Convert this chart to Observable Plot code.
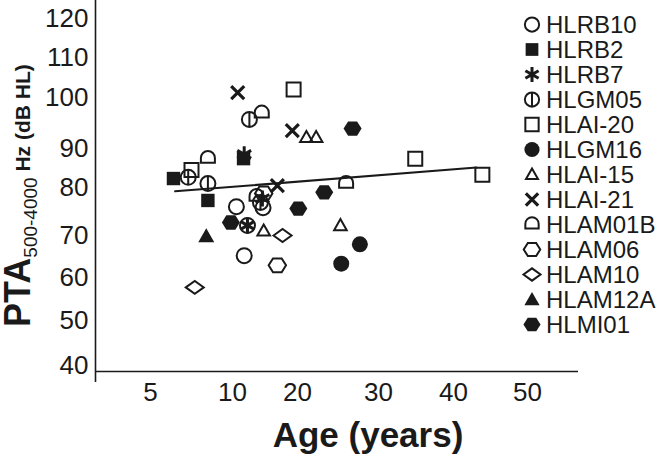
<!DOCTYPE html>
<html><head><meta charset="utf-8">
<script src="https://cdn.jsdelivr.net/npm/d3@7"></script>
<script src="https://cdn.jsdelivr.net/npm/@observablehq/plot@0.6"></script>
<style>
body{margin:0;background:#fff;}
#wrap{position:relative;width:658px;height:460px;font-family:"Liberation Sans",Arial,sans-serif;color:#1a1a1a;}
#wrap > svg{position:absolute;left:0;top:0;}
#legend{position:absolute;left:518px;top:12px;}
.row{height:25px;display:flex;align-items:center;font-size:24px;white-space:nowrap;}
.row svg{width:28px;height:25px;flex:none;}
</style></head><body><div id="wrap"><div id="legend"></div></div>
<script>
// ---- data ----
const groups = ["HLRB10","HLRB2","HLRB7","HLGM05","HLAI-20","HLGM16","HLAI-15","HLAI-21","HLAM01B","HLAM06","HLAM10","HLAM12A","HLMI01"];
const ages = [
  [10.6, 11.8, 14.7],
  [6.4, 11.7, 8.5],
  [11.8, 14.6, 12.3],
  [7.3, 8.5, 12.6, 12.3, 14.3],
  [19.4, 7.5, 34.9, 43.9],
  [27.7, 25.4],
  [21.1, 22.3, 14.8, 25.3],
  [10.8, 19.2, 16.9],
  [14.5, 8.5, 26.0, 13.7],
  [14.8, 16.9],
  [17.7, 7.7],
  [8.4],
  [26.8, 23.3, 20.1, 9.9]
];
const ptas = [
  [76.0, 65.2, 75.8],
  [82.3, 87.4, 77.3],
  [88.5, 77.7, 72.1],
  [82.6, 81.0, 95.7, 72.1, 76.9],
  [102.0, 84.5, 87.4, 83.3],
  [67.9, 63.3],
  [92.2, 92.2, 71.0, 72.1],
  [101.2, 93.5, 80.5],
  [96.9, 87.4, 81.0, 78.1],
  [78.75, 62.9],
  [70.0, 57.7],
  [69.8],
  [93.9, 79.0, 75.6, 72.7]
];
const trendAge = [6.5, 43.1];
const trendPTA = [79.2, 85.1];
const xTicks = [5, 10, 20, 30, 40, 50];
const yTicks = [40, 50, 60, 70, 80, 90, 100, 110, 120];

// ---- uneven axis spacing of the original figure (scale configuration) ----
const xWarp = d3.scaleLinear().domain([0, ...xTicks]).range([95, 150, 232, 297, 378, 453, 527]);
const yWarp = d3.scaleLinear().domain(yTicks).range([365, 320, 277, 235, 187, 148, 97, 57, 18]);

// ---- symbols (style) ----
const R = s => Math.sqrt(s / Math.PI);
const sym = {
  circle: {draw(c, s){const r=R(s); c.moveTo(r,0); c.arc(0,0,r,0,2*Math.PI);}},
  circleLine: {draw(c, s){const r=R(s); c.moveTo(r,0); c.arc(0,0,r,0,2*Math.PI); c.moveTo(0,-r); c.lineTo(0,r);}},
  square: {draw(c, s){const r=R(s); c.rect(-r,-r,2*r,2*r);}},
  triangle: {draw(c, s){const r=R(s); c.moveTo(0,-r); c.lineTo(r,0.75*r); c.lineTo(-r,0.75*r); c.closePath();}},
  hexagon: {draw(c, s){const r=R(s); for(let k=0;k<6;k++){const a=k*Math.PI/3; const px=r*Math.cos(a), py=r*Math.sin(a)*0.92; k?c.lineTo(px,py):c.moveTo(px,py);} c.closePath();}},
  diamond: {draw(c, s){const r=R(s); c.moveTo(-r,0); c.lineTo(0,-0.72*r); c.lineTo(r,0); c.lineTo(0,0.72*r); c.closePath();}},
  dome: {draw(c, s){const r=R(s); c.moveTo(-r,0.6*r); c.lineTo(-r,-0.1*r); c.arc(0,-0.1*r,r,Math.PI,2*Math.PI); c.lineTo(r,0.6*r); c.closePath();}},
  times: {draw(c, s){const r=R(s); c.moveTo(-r,-r); c.lineTo(r,r); c.moveTo(r,-r); c.lineTo(-r,r);}},
  asterisk: {draw(c, s){const r=R(s); for(let k=0;k<3;k++){const a=Math.PI/2+k*Math.PI/3; c.moveTo(r*Math.cos(a),r*Math.sin(a)); c.lineTo(-r*Math.cos(a),-r*Math.sin(a));}}}
};
const ink = "#1a1a1a";
const styles = [
  {symbol: sym.circle, r: 7.5, filled: false, sw: 2},
  {symbol: sym.square, r: 6.7, filled: true},
  {symbol: sym.asterisk, r: 8, filled: false, sw: 3},
  {symbol: sym.circleLine, r: 7.5, filled: false, sw: 2},
  {symbol: sym.square, r: 7, filled: false, sw: 2},
  {symbol: sym.circle, r: 8, filled: true},
  {symbol: sym.triangle, r: 6.3, filled: false, sw: 2},
  {symbol: sym.times, r: 6.5, filled: false, sw: 3.2},
  {symbol: sym.dome, r: 7, filled: false, sw: 2},
  {symbol: sym.hexagon, r: 8.7, filled: false, sw: 2},
  {symbol: sym.diamond, r: 9, filled: false, sw: 2},
  {symbol: sym.triangle, r: 8, filled: true},
  {symbol: sym.hexagon, r: 9, filled: true}
];

const font = "'Liberation Sans', Arial, sans-serif";
const dotMarks = groups.map((g, i) => {
  const st = styles[i];
  const data = ages[i].map((a, j) => ({age: a, pta: ptas[i][j], group: g}));
  return Plot.dot(data, {
    x: "age", y: "pta", symbol: st.symbol, r: st.r,
    fill: st.filled ? ink : "none",
    stroke: st.filled ? "none" : ink,
    strokeWidth: st.sw || 0
  });
});

const svg = Plot.plot({
  width: 658, height: 460,
  marginLeft: 95, marginRight: 80, marginTop: 0, marginBottom: 78,
  style: {fontFamily: font, background: "#fff", color: ink, overflow: "visible"},
  x: {transform: xWarp, domain: [95, 578], range: [95, 578], axis: null},
  y: {transform: yWarp, domain: [382, 0], range: [382, 0], axis: null},
  marks: [
    Plot.ruleX([0], {stroke: ink, strokeWidth: 1.6}),
    Plot.ruleY([yTicks[0]], {stroke: ink, strokeWidth: 1.6, dy: 6}),
    // tick labels (drawn through the warped scales)
    Plot.text(yTicks, {y: d => d, text: d => String(d), frameAnchor: "left", textAnchor: "end", dx: -7, fontSize: 26, fill: ink}),
    Plot.text(xTicks, {x: d => d, text: d => String(d), frameAnchor: "bottom", lineAnchor: "top", dy: 0, fontSize: 26, fill: ink}),
    Plot.line(trendAge.map((a, i) => ({age: a, pta: trendPTA[i]})), {x: "age", y: "pta", stroke: ink, strokeWidth: 2}),
    ...dotMarks
  ]
});

const s = d3.select(svg);
s.append("text")
  .attr("x", 368).attr("y", 447)
  .attr("text-anchor", "middle").attr("font-size", 35).attr("font-weight", "bold")
  .attr("font-family", font).attr("fill", ink)
  .text("Age (years)");
const yt = s.append("text")
  .attr("transform", "translate(30,327) rotate(-90)")
  .attr("text-anchor", "start")
  .attr("font-family", font).attr("fill", ink);
yt.append("tspan").attr("font-size", 36).attr("font-weight", "bold").text("PTA");
yt.append("tspan").attr("font-size", 19).attr("dy", 7).text("500-4000");
yt.append("tspan").attr("font-size", 21).attr("font-weight", "bold").attr("dy", -7).text(" Hz (dB HL)");

document.getElementById("wrap").prepend(svg);

// ---- legend ----
const leg = d3.select("#legend");
groups.forEach((g, i) => {
  const st = styles[i];
  const row = leg.append("div").attr("class", "row");
  const p = d3.path();
  const lr = st.r * 0.95;
  st.symbol.draw(p, lr * lr * Math.PI);
  row.append("svg").attr("viewBox", "-14 -12.5 28 25")
    .append("path").attr("d", p.toString())
    .attr("fill", st.filled ? ink : "none")
    .attr("stroke", st.filled ? "none" : ink)
    .attr("stroke-width", st.sw || 0);
  row.append("span").text(g);
});
</script></body></html>
